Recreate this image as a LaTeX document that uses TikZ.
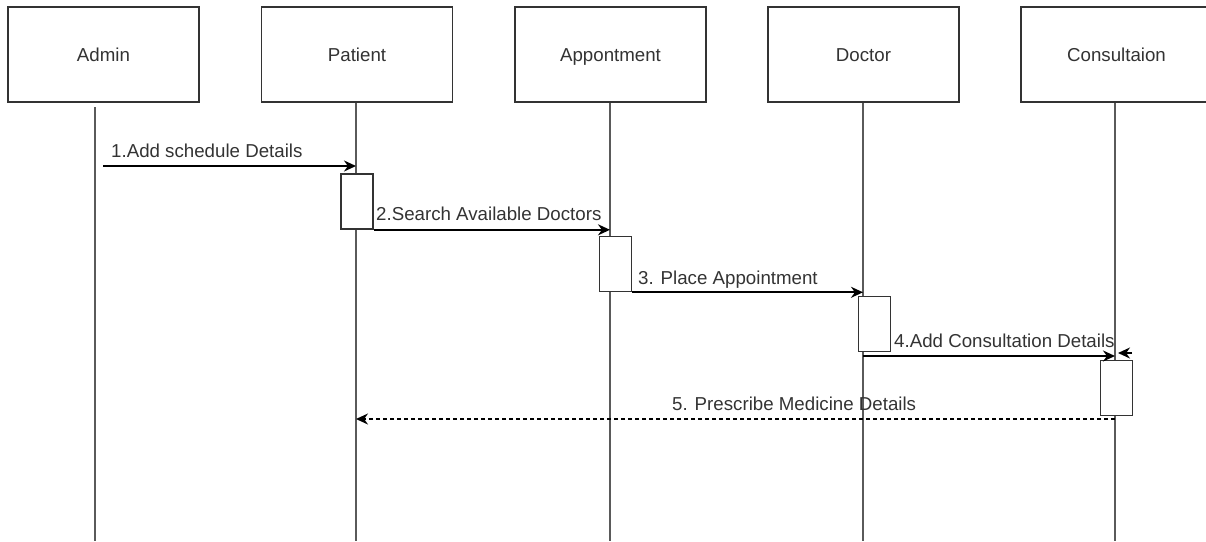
\documentclass[tikz,border=0pt]{standalone}
\usepackage{fontspec}
\setmainfont{Liberation Sans}
\usetikzlibrary{arrows.meta}
\definecolor{boxline}{HTML}{333333}
\definecolor{lifeline}{HTML}{5A5A5A}
\definecolor{txt}{HTML}{333333}

\begin{document}
\begin{tikzpicture}[x=1pt,y=-1pt,
  labelfont/.style={font=\fontsize{18.7}{22}\selectfont,text=txt},
  actor/.style={draw=boxline,line width=1.6pt,fill=white,inner sep=0pt,
    minimum width=191pt,minimum height=95pt,labelfont,
    text height=13.5pt,text depth=0pt},
  actbar/.style={draw=boxline,line width=1.6pt,fill=white,inner sep=0pt,
    minimum width=32pt,minimum height=55pt},
  life/.style={draw=lifeline,line width=2.3pt},
  msg/.style={draw=black,line width=1.8pt,-{Stealth[length=12pt,width=11pt]}},
  reply/.style={msg,dash pattern=on 4pt off 3pt},
  msglabel/.style={labelfont,inner sep=0pt,anchor=base west}
]
\useasboundingbox (0,0) rectangle (1206,541);

% participants
\node[actor] (admin) at (103.5,54.5) {Admin};
\node[actor] (patient) at (357,54.5) {Patient};
\node[actor] (appt) at (610.5,54.5) {Appontment};
\node[actor] (doctor) at (863.5,54.5) {Doctor};
\node[actor] (consult) at (1116.5,54.5) {Consultaion};

% lifelines
\coordinate (adminTop) at (95,107);
\coordinate (adminEnd) at (95,541);
\coordinate (patientEnd) at (356,541);
\coordinate (apptEnd) at (610,541);
\coordinate (doctorEnd) at (863,541);
\coordinate (consultEnd) at (1115,541);
\draw[life] (adminTop) -- (adminEnd);
\draw[life] (patientEnd |- patient.south) -- (patientEnd);
\draw[life] (apptEnd |- appt.south) -- (apptEnd);
\draw[life] (doctorEnd |- doctor.south) -- (doctorEnd);
\draw[life] (consultEnd |- consult.south) -- (consultEnd);

% activation bars
\node[actbar] (actPatient) at (357,201.5) {};
\node[actbar] (actAppt) at (615.5,264) {};
\node[actbar] (actDoctor) at (874.5,324) {};
\node[actbar] (actConsult) at (1116.5,388) {};

% messages
\coordinate (m1start) at (103,166);
\draw[msg] (m1start) -- (m1start -| patientEnd);
\node[msglabel] (l1) at (111,157) {1.Add schedule Details};

\draw[msg] (actPatient.south east) -- (actPatient.south east -| apptEnd);
\node[msglabel] (l2) at (376,220) {2.Search Available Doctors};

\draw[msg] (actAppt.south east) -- (actAppt.south east -| doctorEnd);
\node[msglabel] (l3) at (638,284) {3. Place Appointment};

\coordinate (m4start) at (863,356);
\draw[msg] (m4start) -- (m4start -| consultEnd);
\node[msglabel] (l4) at (894,347) {4.Add Consultation Details};
\coordinate (selfStart) at (1132,353);
\coordinate (selfEnd) at (1118,353);
\draw[msg] (selfStart) -- (selfEnd);

\coordinate (m5start) at (1115,419);
\draw[reply] (m5start) -- (m5start -| patientEnd);
\node[msglabel] (l5) at (672,410) {5. Prescribe Medicine Details};
\end{tikzpicture}
\end{document}
